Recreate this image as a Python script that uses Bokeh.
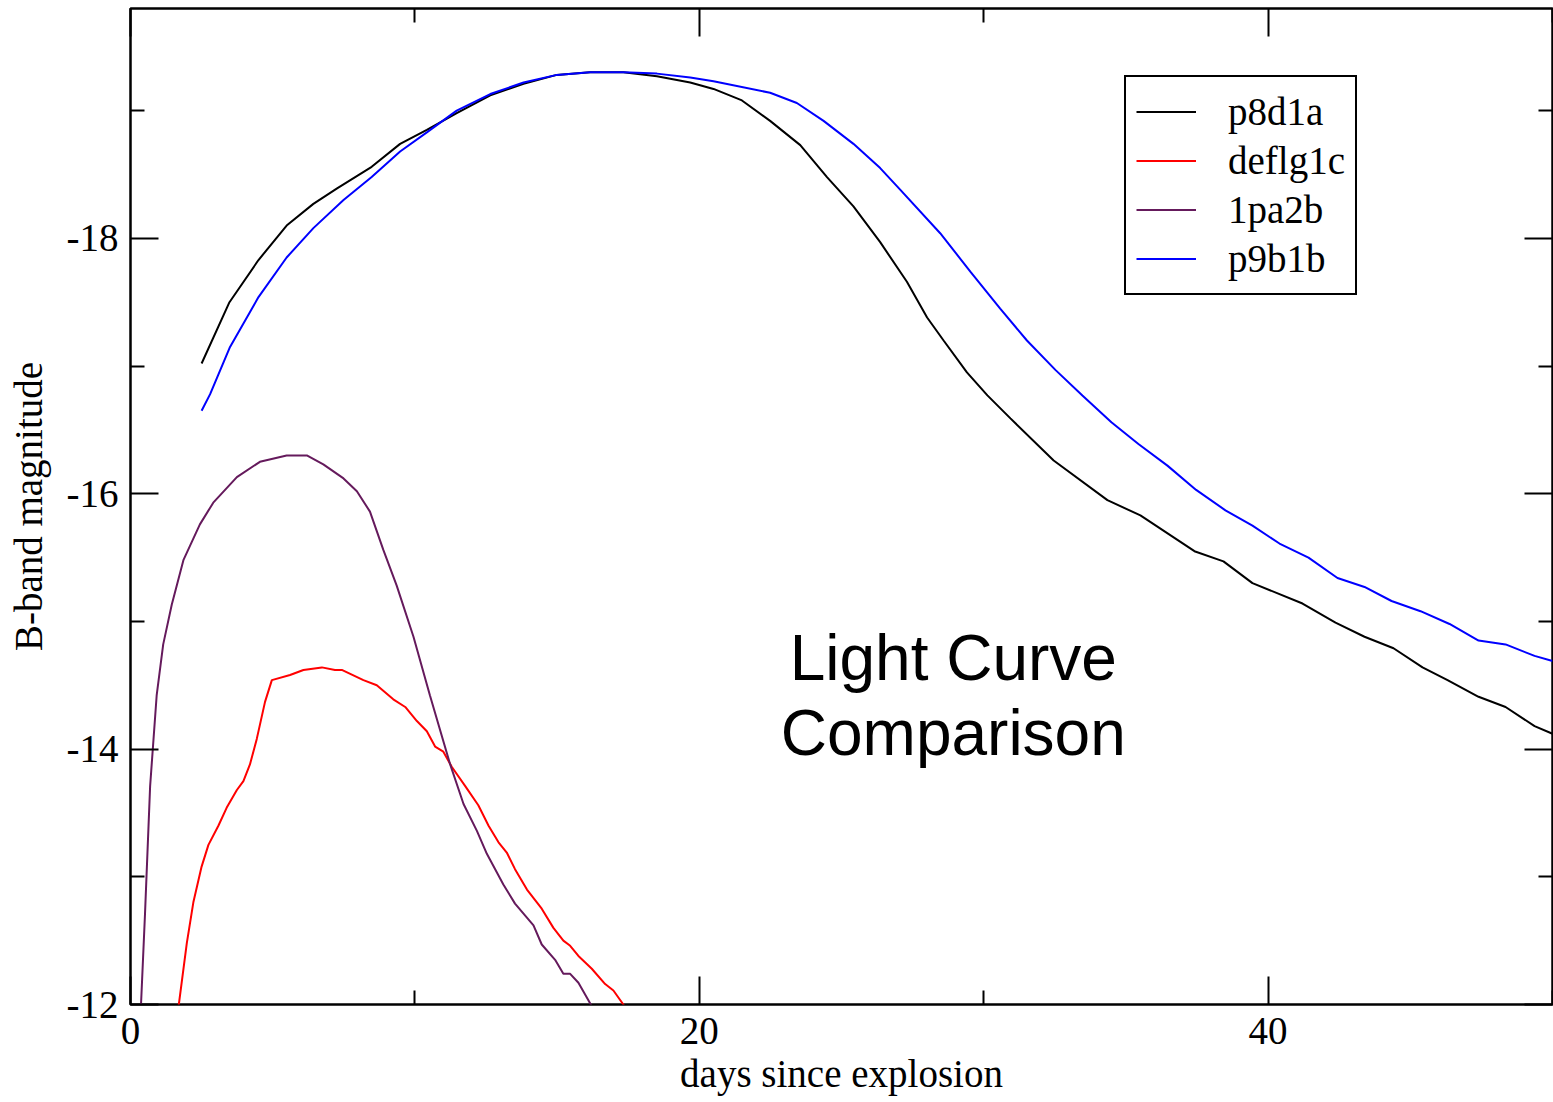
from bokeh.plotting import figure
from bokeh.models import (Range1d, FixedTicker, LinearAxis, Legend, LegendItem,
                          Label, CustomJSTickFormatter)
from bokeh.embed import file_html
from bokeh.resources import INLINE

# ---- data (days since explosion, B-band magnitude) ----
p8d1a_days = [2.50, 3.48, 4.50, 5.49, 6.43, 7.25, 8.48, 9.48, 10.42, 11.47, 12.65, 13.82,
              14.99, 16.16, 17.33, 18.51, 19.68, 20.50, 21.50, 22.49, 23.55, 24.49, 25.42,
              26.36, 27.30, 28.01, 28.59, 29.41, 30.13, 30.94, 32.46, 34.35, 35.51, 37.41,
              38.43, 39.45, 41.21, 42.37, 43.39, 44.41, 45.43, 46.31, 47.40, 48.35, 49.37, 50.0]
p8d1a_mag = [-17.02, -17.50, -17.83, -18.10, -18.27, -18.39, -18.56, -18.74, -18.85, -18.98,
             -19.12, -19.21, -19.28, -19.30, -19.30, -19.27, -19.22, -19.17, -19.08, -18.92,
             -18.73, -18.48, -18.25, -17.97, -17.66, -17.38, -17.20, -16.95, -16.77, -16.59,
             -16.26, -15.95, -15.83, -15.55, -15.47, -15.30, -15.14, -14.99, -14.88, -14.79,
             -14.64, -14.54, -14.41, -14.33, -14.18, -14.12]

deflg1c_days = [1.67, 1.98, 2.21, 2.50, 2.74, 3.09, 3.38, 3.74, 3.97, 4.20, 4.44, 4.73, 4.97,
                5.61, 6.08, 6.73, 7.19, 7.43, 8.19, 8.66, 9.24, 9.66, 10.07, 10.42, 10.71,
                11.00, 11.30, 11.77, 12.23, 12.59, 12.94, 13.23, 13.52, 13.94, 14.46, 14.87,
                15.22, 15.46, 15.75, 16.22, 16.69, 16.98, 17.33, 17.50]
deflg1c_mag = [-11.95, -12.48, -12.80, -13.08, -13.25, -13.40, -13.54, -13.68, -13.75, -13.88,
               -14.08, -14.37, -14.54, -14.58, -14.62, -14.64, -14.62, -14.62, -14.54, -14.50,
               -14.39, -14.33, -14.22, -14.14, -14.02, -13.98, -13.86, -13.71, -13.56, -13.40,
               -13.27, -13.19, -13.06, -12.90, -12.75, -12.60, -12.50, -12.46, -12.38, -12.28,
               -12.16, -12.11, -12.00, -11.95]

pa2b_days = [0.35, 0.51, 0.69, 0.92, 1.15, 1.45, 1.86, 2.44, 2.91, 3.74, 4.55, 5.49, 6.20,
             6.78, 7.49, 7.96, 8.42, 8.89, 9.36, 9.95, 10.53, 11.24, 11.71, 12.18, 12.53,
             13.11, 13.52, 14.17, 14.46, 14.93, 15.22, 15.46, 15.75, 16.16, 16.34]
pa2b_mag = [-11.90, -12.71, -13.71, -14.42, -14.82, -15.13, -15.48, -15.76, -15.93, -16.13,
            -16.25, -16.30, -16.30, -16.23, -16.12, -16.02, -15.86, -15.56, -15.28, -14.88,
            -14.42, -13.88, -13.57, -13.36, -13.18, -12.94, -12.79, -12.62, -12.47, -12.35,
            -12.24, -12.24, -12.17, -12.01, -11.93]

p9b1b_days = [2.50, 2.80, 3.50, 4.50, 5.49, 6.43, 7.49, 8.48, 9.48, 10.42, 11.47, 12.65, 13.82,
              14.99, 16.16, 17.33, 18.51, 19.68, 20.50, 22.49, 23.43, 24.37, 25.42, 26.36,
              27.07, 28.47, 29.53, 30.58, 31.52, 32.52, 33.47, 34.49, 35.44, 36.46, 37.47,
              38.50, 39.45, 40.40, 41.42, 42.44, 43.39, 44.34, 45.36, 46.38, 47.40, 48.35,
              49.37, 50.0]
p9b1b_mag = [-16.65, -16.78, -17.15, -17.54, -17.85, -18.08, -18.30, -18.48, -18.68, -18.83,
             -19.00, -19.13, -19.22, -19.28, -19.30, -19.30, -19.29, -19.26, -19.23, -19.14,
             -19.06, -18.92, -18.74, -18.55, -18.38, -18.04, -17.74, -17.45, -17.20, -16.97,
             -16.77, -16.56, -16.39, -16.22, -16.03, -15.87, -15.75, -15.61, -15.50, -15.34,
             -15.27, -15.16, -15.08, -14.98, -14.85, -14.82, -14.73, -14.69]

series_names = ["p8d1a", "deflg1c", "1pa2b", "p9b1b"]
series_colors = ["black", "#ff0000", "#651a5c", "#0000ff"]

x_major = [0, 20, 40]
x_minor = [10, 30, 50]
y_major = [-18, -16, -14, -12]
y_minor = [-19, -17, -15, -13]

SERIF = "Liberation Serif"
SANS = "Liberation Sans"

p = figure(width=1553, height=1102,
           x_range=Range1d(0, 50), y_range=Range1d(-12, -19.8),
           output_backend="svg", toolbar_location=None,
           min_border_left=130, min_border_right=1,
           min_border_top=8, min_border_bottom=98)
p.grid.visible = False
p.outline_line_color = "black"
p.outline_line_width = 2.5
p.background_fill_color = "white"
p.border_fill_color = "white"


def style_axis(ax, major, minor):
    ax.ticker = FixedTicker(ticks=major, minor_ticks=minor)
    ax.axis_line_color = None
    ax.major_tick_in = 28
    ax.major_tick_out = 0
    ax.minor_tick_in = 14
    ax.minor_tick_out = 0
    ax.major_tick_line_color = "black"
    ax.major_tick_line_width = 2
    ax.minor_tick_line_color = "black"
    ax.minor_tick_line_width = 2


xa = p.xaxis[0]
style_axis(xa, x_major, x_minor)
xa.formatter = CustomJSTickFormatter(code="return String(tick);")
xa.major_label_text_font = SERIF
xa.major_label_text_font_size = "39px"
xa.major_label_text_color = "black"
xa.major_label_standoff = 13
xa.axis_label = "days since explosion"
xa.axis_label_text_font = SERIF
xa.axis_label_text_font_size = "39px"
xa.axis_label_text_font_style = "normal"
xa.axis_label_text_color = "black"
xa.axis_label_standoff = 5

ya = p.yaxis[0]
style_axis(ya, y_major, y_minor)
ya.formatter = CustomJSTickFormatter(code="return String(tick);")
ya.major_label_text_font = SERIF
ya.major_label_text_font_size = "39px"
ya.major_label_text_color = "black"
ya.major_label_standoff = 12
ya.axis_label = "B-band magnitude"
ya.axis_label_text_font = SERIF
ya.axis_label_text_font_size = "39px"
ya.axis_label_text_font_style = "normal"
ya.axis_label_text_color = "black"
ya.axis_label_standoff = 14

top = LinearAxis()
style_axis(top, x_major, x_minor)
top.major_label_text_font_size = "0px"
top.major_label_standoff = 0
top.formatter = CustomJSTickFormatter(code="return '';")
p.add_layout(top, "above")

right = LinearAxis()
style_axis(right, y_major, y_minor)
right.major_label_text_font_size = "0px"
right.major_label_standoff = 0
right.formatter = CustomJSTickFormatter(code="return '';")
p.add_layout(right, "right")

all_days = [p8d1a_days, deflg1c_days, pa2b_days, p9b1b_days]
all_mags = [p8d1a_mag, deflg1c_mag, pa2b_mag, p9b1b_mag]
items = []
for name, color, d, m in zip(series_names, series_colors, all_days, all_mags):
    r = p.line(d, m, line_color=color, line_width=2)
    items.append(LegendItem(label=name, renderers=[r]))

legend = Legend(items=items, location=(994, 709),
                padding=10, spacing=0, margin=0,
                glyph_width=60, glyph_height=49, label_height=49,
                label_standoff=32,
                label_text_font=SERIF, label_text_font_size="39px",
                label_text_color="black",
                border_line_color="black", border_line_width=2,
                border_line_alpha=1.0,
                background_fill_color="white", background_fill_alpha=1.0)
p.add_layout(legend)

note = Label(x=28.93, y=-14.42, text="Light Curve\nComparison",
             text_align="center", text_baseline="middle",
             text_font=SANS, text_font_size="64px", text_color="black",
             text_line_height=1.04)
p.add_layout(note)

open("out.html", "w").write(file_html(p, INLINE))
